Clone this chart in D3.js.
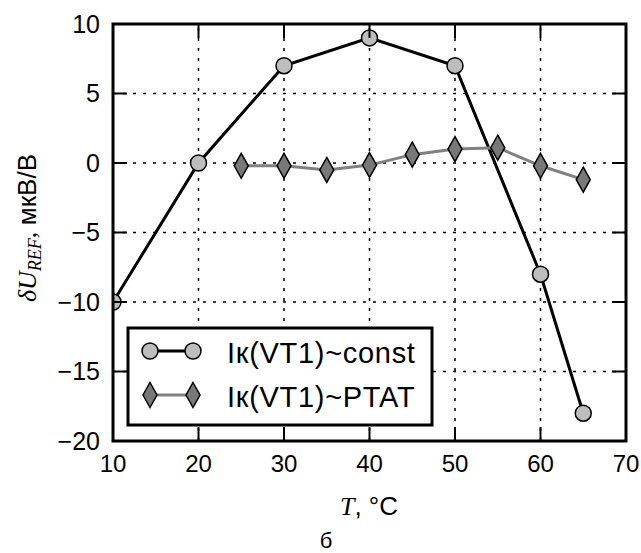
<!DOCTYPE html>
<html><head><meta charset="utf-8">
<script src="https://cdn.jsdelivr.net/npm/d3@7"></script>
<style>body{margin:0;background:#fff}</style>
</head><body><svg id="c" width="641" height="553"></svg>
<script>
const tempConst = [10, 20, 30, 40, 50, 60, 65];
const valConst = [-10, 0, 7, 9, 7, -8, -18];
const tempPtat = [25, 30, 35, 40, 45, 50, 55, 60, 65];
const valPtat = [-0.2, -0.2, -0.5, -0.15, 0.6, 1.0, 1.1, -0.2, -1.2];
const xTicks = [10, 20, 30, 40, 50, 60, 70];
const yTicks = [-20, -15, -10, -5, 0, 5, 10];
const seriesNames = ["Iк(VT1)~const", "Iк(VT1)~PTAT"];

const W = 641, H = 553;
const m = {left: 113, right: 15, top: 24, bottom: 112};
const svg = d3.select("#c");
const x = d3.scaleLinear().domain([10, 70]).range([m.left, W - m.right]);
const y = d3.scaleLinear().domain([-20, 10]).range([H - m.bottom, m.top]);
const sans = "'Liberation Sans', Arial, Helvetica, sans-serif";
const serif = "'Liberation Serif', 'Times New Roman', serif";

svg.append("defs").append("clipPath").attr("id", "clip")
  .append("rect").attr("x", m.left).attr("y", m.top)
  .attr("width", x.range()[1] - m.left).attr("height", y.range()[0] - m.top);

// grid
const grid = svg.append("g").attr("stroke", "#000").attr("stroke-width", 1.5).attr("stroke-dasharray", "3,7");
grid.selectAll(".gx").data(xTicks.slice(1, -1)).join("line")
  .attr("x1", d => x(d)).attr("x2", d => x(d)).attr("y1", y(-20)).attr("y2", y(10));
grid.selectAll(".gy").data(yTicks.slice(1, -1)).join("line")
  .attr("y1", d => y(d)).attr("y2", d => y(d)).attr("x1", x(10)).attr("x2", x(70));

const constData = tempConst.map((t, i) => [t, valConst[i]]);
const ptatData = tempPtat.map((t, i) => [t, valPtat[i]]);
const line = d3.line().x(d => x(d[0])).y(d => y(d[1]));
const plot = svg.append("g").attr("clip-path", "url(#clip)");

plot.append("path").datum(constData).attr("d", line).attr("fill", "none")
  .attr("stroke", "#000").attr("stroke-width", 3);
plot.append("path").datum(ptatData).attr("d", line).attr("fill", "none")
  .attr("stroke", "#808080").attr("stroke-width", 3);

const diamond = (cx, cy) => `M${cx},${cy - 12.5}L${cx + 7},${cy}L${cx},${cy + 12.5}L${cx - 7},${cy}Z`;

plot.selectAll(".c").data(constData).join("circle")
  .attr("cx", d => x(d[0])).attr("cy", d => y(d[1])).attr("r", 8)
  .attr("fill", "#bdbdbd").attr("stroke", "#000").attr("stroke-width", 1.5);
plot.selectAll(".d").data(ptatData).join("path")
  .attr("d", d => diamond(x(d[0]), y(d[1])))
  .attr("fill", "#787878").attr("stroke", "#000").attr("stroke-width", 1.5);

// ticks (inward, all four sides)
const tk = svg.append("g").attr("stroke", "#000").attr("stroke-width", 2);
const TL = 14;
xTicks.slice(1, -1).forEach(t => {
  tk.append("line").attr("x1", x(t)).attr("x2", x(t)).attr("y1", y(-20)).attr("y2", y(-20) - TL);
  tk.append("line").attr("x1", x(t)).attr("x2", x(t)).attr("y1", y(10)).attr("y2", y(10) + TL);
});
yTicks.slice(1, -1).forEach(t => {
  tk.append("line").attr("y1", y(t)).attr("y2", y(t)).attr("x1", x(10)).attr("x2", x(10) + TL);
  tk.append("line").attr("y1", y(t)).attr("y2", y(t)).attr("x1", x(70)).attr("x2", x(70) - TL);
});

// spines
svg.append("rect").attr("x", x(10)).attr("y", y(10)).attr("width", x(70) - x(10)).attr("height", y(-20) - y(10))
  .attr("fill", "none").attr("stroke", "#000").attr("stroke-width", 3);

// tick labels
const fmt = d => d < 0 ? "\u2212" + Math.abs(d) : String(d);
svg.append("g").selectAll("text").data(xTicks).join("text")
  .attr("x", d => x(d)).attr("y", y(-20) + 31).attr("text-anchor", "middle")
  .attr("font-family", sans).attr("font-size", 24).text(fmt);
svg.append("g").selectAll("text").data(yTicks).join("text")
  .attr("x", x(10) - 13).attr("y", d => y(d) + 8.5).attr("text-anchor", "end")
  .attr("font-family", sans).attr("font-size", 25).text(fmt);

// axis labels
const xl = svg.append("text").attr("x", 369).attr("y", 515).attr("text-anchor", "middle").attr("font-size", 26);
xl.append("tspan").attr("font-family", serif).attr("font-style", "italic").text("T");
xl.append("tspan").attr("font-family", sans).text(", °C");

const yl = svg.append("text").attr("transform", "translate(36,228) rotate(-90)").attr("text-anchor", "middle").attr("font-size", 26);
yl.append("tspan").attr("font-family", serif).attr("font-style", "italic").text("δU");
yl.append("tspan").attr("font-family", serif).attr("font-style", "italic").attr("font-size", 18).attr("dy", 5).text("REF");
yl.append("tspan").attr("font-family", serif).attr("dy", -5).text(", ");
yl.append("tspan").attr("font-family", sans).text("мкВ/В");

svg.append("text").attr("x", 326).attr("y", 548).attr("text-anchor", "middle")
  .attr("font-family", sans).attr("font-size", 22).text("б");

// legend
const lg = svg.append("g");
lg.append("rect").attr("x", 128).attr("y", 328).attr("width", 304).attr("height", 97)
  .attr("fill", "#fff").attr("stroke", "#000").attr("stroke-width", 3);
const rows = [351, 395];
lg.append("line").attr("x1", 150).attr("x2", 193).attr("y1", rows[0]).attr("y2", rows[0]).attr("stroke", "#000").attr("stroke-width", 3);
[150, 193].forEach(cx => lg.append("circle").attr("cx", cx).attr("cy", rows[0]).attr("r", 8)
  .attr("fill", "#bdbdbd").attr("stroke", "#000").attr("stroke-width", 1.5));
lg.append("line").attr("x1", 150).attr("x2", 193).attr("y1", rows[1]).attr("y2", rows[1]).attr("stroke", "#808080").attr("stroke-width", 3);
[150, 193].forEach(cx => lg.append("path").attr("d", diamond(cx, rows[1]))
  .attr("fill", "#787878").attr("stroke", "#000").attr("stroke-width", 1.5));
seriesNames.forEach((s, i) => lg.append("text").attr("x", 227).attr("y", rows[i] + 12)
  .attr("font-family", sans).attr("font-size", 29).attr("letter-spacing", 0.7).text(s));
</script></body></html>
